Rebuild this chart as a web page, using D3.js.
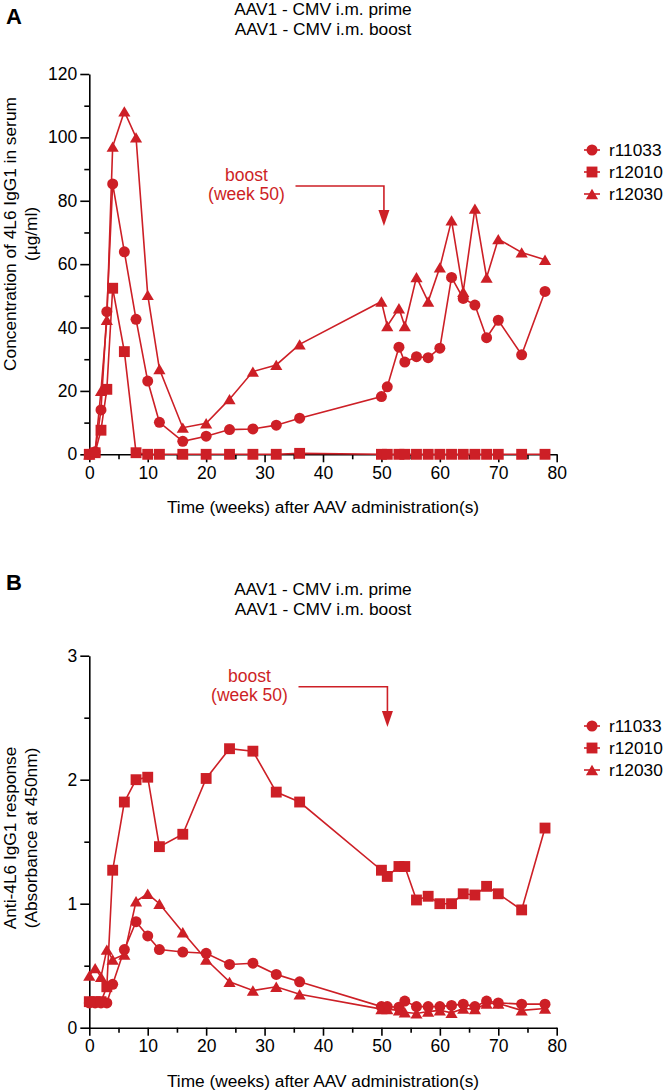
<!DOCTYPE html>
<html><head><meta charset="utf-8">
<script src="https://cdn.jsdelivr.net/npm/d3@7"></script>
<style>body{margin:0;background:#fff}svg{display:block;font-family:"Liberation Sans",Arial,sans-serif}</style>
</head><body><svg id="c" width="664" height="1092"></svg>
<script>
const weeks = [0,1,2,3,4,6,8,10,12,16,20,24,28,32,36,50,51,53,54,56,58,60,62,64,66,68,70,74,78];
const seriesNames = ["r11033","r12010","r12030"];
// Panel A: concentration (µg/ml)
const a_r11033 = [0,0.8,14,45,85.3,63.9,42.6,23.1,10.1,4.1,5.7,7.8,8,9.2,11.4,18.2,21.3,33.8,29.1,30.8,30.5,33.5,55.8,49.2,47.1,36.8,42.3,31.4,51.4];
const a_r12010 = [0,0.5,7.6,20.5,52.4,32.4,0.5,0,0,0,0,0,0,0,0.3,0,0,0,0,0,0,0,0,0,0,0,0,0,0];
const a_r12030 = [0,1,20,42.4,97.1,108.2,100,50.3,26.9,8.4,9.8,17.4,26.1,28.2,34.7,48.2,40.5,46.1,40.5,55.9,48.2,59,73.8,51.3,77.5,55.8,67.9,63.7,61.4];
// Panel B: absorbance at 450nm
const b_r11033 = [0.2,0.2,0.2,0.2,0.35,0.63,0.855,0.74,0.63,0.61,0.6,0.51,0.52,0.43,0.37,0.17,0.17,0.165,0.215,0.17,0.17,0.17,0.18,0.19,0.17,0.215,0.2,0.19,0.19];
const b_r12010 = [0.21,0.21,0.21,0.33,1.27,1.82,2.0,2.02,1.46,1.56,2.01,2.25,2.23,1.9,1.82,1.27,1.22,1.3,1.3,1.03,1.06,1.0,1.0,1.08,1.07,1.14,1.08,0.95,1.61];
const b_r12030 = [0.42,0.48,0.41,0.63,0.55,0.59,1.02,1.08,1.0,0.77,0.55,0.37,0.30,0.33,0.27,0.15,0.15,0.14,0.125,0.115,0.13,0.14,0.12,0.155,0.15,0.195,0.195,0.14,0.155];
const xTicks = [0,10,20,30,40,50,60,70,80];
const xMinor = [5,15,25,35,45,55,65,75];
const aTicks = [0,20,40,60,80,100,120];
const aMinor = [10,30,50,70,90,110];
const bTicks = [0,1,2,3];
const bMinor = [0.5,1.5,2.5];
const titleLines = ["AAV1 - CMV i.m. prime","AAV1 - CMV i.m. boost"];
const boostLines = ["boost","(week 50)"];

const RED = "#cd1f26";
const FS = 17.3;
const svg = d3.select("#c");

const triType = {draw(ctx, size){const a=Math.sqrt(size)*1.6, h=a*0.85; ctx.moveTo(0,-h/2); ctx.lineTo(a/2,h/2); ctx.lineTo(-a/2,h/2); ctx.closePath();}};
const symTypes = [d3.symbolCircle, d3.symbolSquare, triType];
const symSizes = [95, 118, 58];

function panel(o){
  const g = svg.append("g");
  const x = d3.scaleLinear().domain([0,80]).range([89.3,556.7]);
  const y = d3.scaleLinear().domain([0,o.ymax]).range([o.y0,o.y1]);
  g.append("text").attr("x",6).attr("y",o.letterY).attr("font-size",22).attr("font-weight","bold").text(o.letter);
  titleLines.forEach((t,i)=>g.append("text").attr("x",323).attr("y",o.titleY+i*20).attr("text-anchor","middle").attr("font-size",FS).text(t));
  g.append("g").attr("transform",`translate(0,${o.y0})`).call(d3.axisBottom(x).tickValues(xTicks).tickSize(8).tickSizeOuter(0).tickPadding(4));
  g.append("g").attr("transform",`translate(0,${o.y0})`).call(d3.axisBottom(x).tickValues(xMinor).tickSize(5).tickFormat("")).select(".domain").remove();
  g.append("g").attr("transform","translate(89.3,0)").call(d3.axisLeft(y).tickValues(o.ticks).tickSize(9).tickSizeOuter(0).tickPadding(3).tickFormat(d3.format("d")));
  g.append("g").attr("transform","translate(89.3,0)").call(d3.axisLeft(y).tickValues(o.minor).tickSize(5).tickFormat("")).select(".domain").remove();
  g.selectAll(".domain, .tick line").attr("stroke","#000").attr("stroke-width",1.6);
  g.selectAll(".tick text").attr("font-size",17.5).attr("fill","#000").attr("font-family","Liberation Sans, Arial, sans-serif");
  g.append("text").attr("x",323).attr("y",o.xTitleY).attr("text-anchor","middle").attr("font-size",FS).text("Time (weeks) after AAV administration(s)");
  o.yTitle.forEach((t,i)=>g.append("text").attr("transform",`translate(${15.5+i*21.5},${o.yTitleC}) rotate(-90)`).attr("text-anchor","middle").attr("font-size",FS).text(t));
  const line = d3.line().x((d,i)=>x(weeks[i])).y(d=>y(d));
  o.series.forEach((s,k)=>{
    g.append("path").attr("d",line(s)).attr("fill","none").attr("stroke",RED).attr("stroke-width",1.6);
    g.selectAll(null).data(s).enter().append("path")
      .attr("transform",(d,i)=>`translate(${x(weeks[i])},${y(d)})`)
      .attr("d",d3.symbol().type(symTypes[k]).size(symSizes[k])).attr("fill",RED);
  });
  seriesNames.forEach((n,k)=>{
    const ly = o.legY + k*22;
    g.append("line").attr("x1",584).attr("x2",600).attr("y1",ly).attr("y2",ly).attr("stroke",RED).attr("stroke-width",1.6);
    g.append("path").attr("transform",`translate(592,${ly})`).attr("d",d3.symbol().type(symTypes[k]).size(symSizes[k])).attr("fill",RED);
    g.append("text").attr("x",609).attr("y",ly+6).attr("font-size",17.3).text(n);
  });
  boostLines.forEach((t,i)=>g.append("text").attr("x",o.boostX).attr("y",o.boostY+i*19).attr("text-anchor","middle").attr("font-size",17.5).attr("fill",RED).text(t));
  const ax = x(50)+o.arrowDx;
  g.append("path").attr("d",`M${o.boostX+49},${o.arrowY}H${ax}V${o.arrowTip-14}`).attr("fill","none").attr("stroke",RED).attr("stroke-width",1.6);
  g.append("path").attr("d",`M${ax-5.5},${o.arrowTip-16}L${ax+5.5},${o.arrowTip-16}L${ax},${o.arrowTip}Z`).attr("fill",RED);
}

panel({letter:"A",letterY:24,titleY:15,ymax:120,y0:454.3,y1:74,ticks:aTicks,minor:aMinor,
  xTitleY:513,yTitle:["Concentration of 4L6 IgG1 in serum","(µg/ml)"],yTitleC:234,
  series:[a_r11033,a_r12010,a_r12030],legY:150,boostX:246.5,boostY:181,arrowY:186,arrowDx:2.5,arrowTip:226});
panel({letter:"B",letterY:590,titleY:595,ymax:3,y0:1027.7,y1:655.7,ticks:bTicks,minor:bMinor,
  xTitleY:1087,yTitle:["Anti-4L6 IgG1 response","(Absorbance at 450nm)"],yTitleC:838,
  series:[b_r11033,b_r12010,b_r12030],legY:726,boostX:249.5,boostY:682,arrowY:686.7,arrowDx:6,arrowTip:727});
</script></body></html>
